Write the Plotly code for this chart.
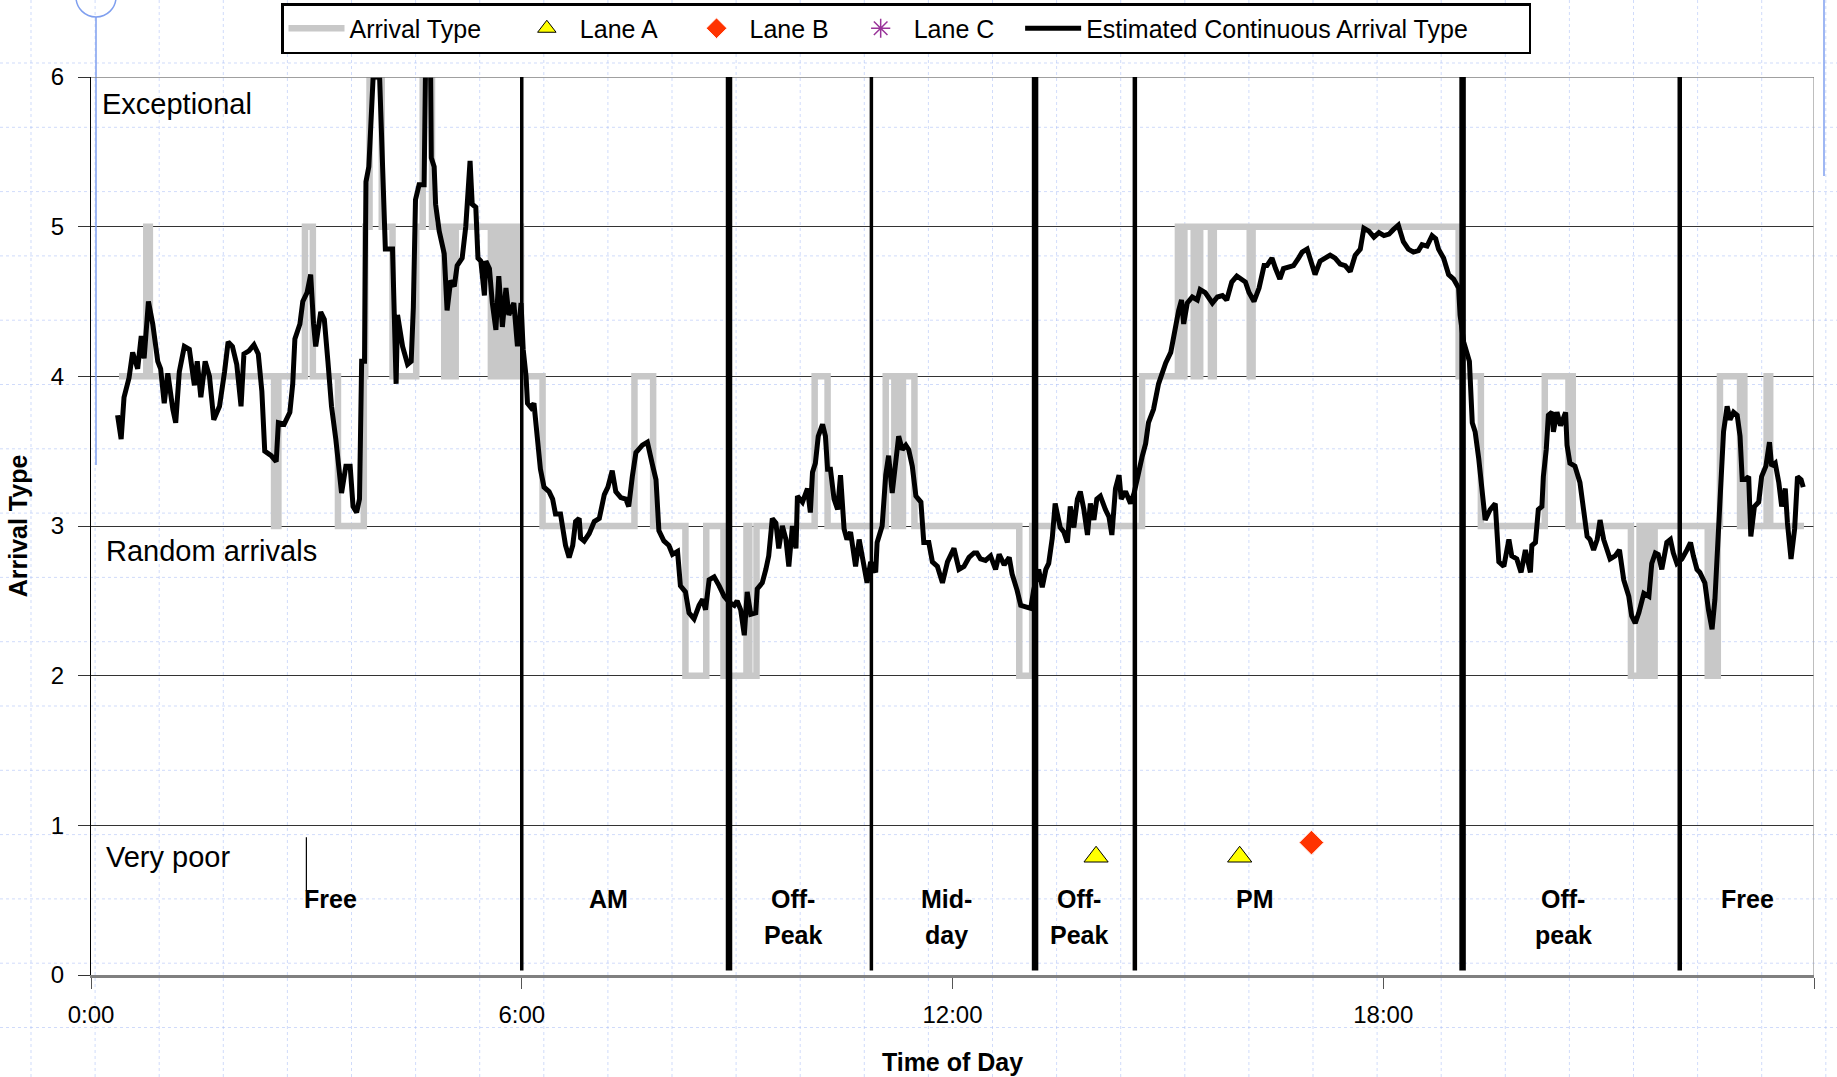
import plotly.graph_objects as go

# ---------------- data ----------------
# Estimated continuous arrival type (time in hours of day)
est_time = [
    0.37, 0.42, 0.46, 0.53, 0.58, 0.65, 0.70, 0.74, 0.80, 0.86, 0.93, 0.97, 1.02, 1.07, 1.14, 1.18, 1.23, 1.30,
    1.37, 1.44, 1.48, 1.53, 1.59, 1.65, 1.71, 1.79, 1.86, 1.91, 1.97, 2.03, 2.09, 2.13, 2.20, 2.27, 2.33, 2.38,
    2.42, 2.51, 2.58, 2.61, 2.69, 2.77, 2.81, 2.84, 2.91, 2.95, 3.01, 3.06, 3.10, 3.13, 3.20, 3.25, 3.30, 3.35,
    3.41, 3.46, 3.49, 3.55, 3.61, 3.65, 3.70, 3.74, 3.77, 3.81, 3.83, 3.87, 3.93, 4.02, 4.08, 4.10,
    4.20, 4.25, 4.27, 4.34, 4.41, 4.46, 4.49, 4.52, 4.57, 4.64, 4.66, 4.73, 4.74, 4.78, 4.80, 4.85, 4.92, 4.96,
    5.01, 5.06, 5.10, 5.17, 5.22, 5.25, 5.28, 5.31, 5.36, 5.39, 5.43, 5.48, 5.50, 5.55, 5.59, 5.64, 5.68, 5.73,
    5.78, 5.82, 5.89, 5.94, 5.99, 6.02, 6.06, 6.08, 6.13, 6.17, 6.22, 6.26, 6.31, 6.38, 6.43, 6.47, 6.54, 6.61,
    6.66, 6.71, 6.75, 6.80, 6.82, 6.87, 6.94, 7.01, 7.08, 7.15, 7.20, 7.26, 7.31, 7.38, 7.45, 7.49, 7.54, 7.59,
    7.68, 7.75, 7.82, 7.87, 7.91, 7.98, 8.05,
    8.10, 8.17, 8.21, 8.28, 8.33, 8.40, 8.47, 8.52, 8.56, 8.61, 8.68, 8.75, 8.82, 8.89, 8.96, 9.00, 9.05, 9.10,
    9.14, 9.19, 9.26, 9.28, 9.35, 9.40, 9.44, 9.49, 9.54, 9.58, 9.63, 9.68, 9.72, 9.77, 9.82, 9.84, 9.91, 9.98,
    10.02, 10.05, 10.09, 10.13, 10.19, 10.23, 10.26, 10.30, 10.35, 10.40, 10.44, 10.49, 10.53, 10.58, 10.65,
    10.70, 10.77, 10.81, 10.86, 10.93, 10.95, 11.02, 11.07, 11.11, 11.16, 11.21, 11.25, 11.30, 11.35, 11.39,
    11.44, 11.49, 11.56, 11.60, 11.67, 11.72, 11.79, 11.86, 11.93, 12.02,
    12.09, 12.16, 12.23, 12.30, 12.34, 12.39, 12.46, 12.53, 12.60, 12.65, 12.72, 12.79, 12.83, 12.90, 12.95,
    13.02, 13.09, 13.13, 13.20, 13.25, 13.30, 13.34, 13.39, 13.43, 13.50, 13.55, 13.60, 13.64, 13.69, 13.74,
    13.78, 13.83, 13.88, 13.92, 13.97, 14.01, 14.06, 14.13, 14.18, 14.22, 14.27, 14.32, 14.35, 14.41, 14.48,
    14.53, 14.57, 14.64, 14.69, 14.73, 14.80, 14.87, 14.92, 14.97, 15.04, 15.11, 15.15, 15.19, 15.22, 15.27,
    15.34, 15.41, 15.45, 15.52, 15.57, 15.62, 15.69, 15.76, 15.82, 15.89, 15.96,
    16.03, 16.08, 16.13, 16.20, 16.27, 16.34, 16.38, 16.45, 16.50, 16.56, 16.61, 16.68, 16.75, 16.82, 16.87,
    16.94, 17.01, 17.05, 17.12, 17.19, 17.26, 17.33, 17.40, 17.47, 17.54, 17.61, 17.68, 17.73, 17.80, 17.87,
    17.94, 18.01, 18.08, 18.14, 18.21, 18.28, 18.35, 18.42, 18.49, 18.54, 18.61, 18.68, 18.73, 18.77, 18.84,
    18.91, 18.98, 19.05, 19.07, 19.12, 19.17, 19.20, 19.24, 19.28, 19.33, 19.37, 19.42, 19.49, 19.56, 19.61,
    19.68, 19.75, 19.79,
    19.86, 19.92, 19.98, 20.05, 20.07, 20.12, 20.16, 20.21, 20.23, 20.27, 20.30, 20.35, 20.37, 20.42, 20.47,
    20.54, 20.56, 20.60, 20.67, 20.74, 20.79, 20.84, 20.88, 20.93, 20.98, 21.02, 21.07, 21.12, 21.16, 21.23,
    21.29, 21.35, 21.42, 21.46, 21.51, 21.56, 21.63, 21.70, 21.74, 21.79, 21.83, 21.88, 21.95, 22.00, 22.04,
    22.09, 22.16, 22.23, 22.28, 22.32, 22.37, 22.41, 22.48, 22.53, 22.58, 22.62, 22.67, 22.72, 22.74, 22.79,
    22.83, 22.88, 22.93, 22.97, 23.00, 23.04, 23.09, 23.12, 23.17, 23.23, 23.27, 23.33, 23.38, 23.41, 23.46,
    23.51, 23.55, 23.60, 23.63, 23.68, 23.73, 23.77, 23.82, 23.85,
]
est_value = [
    3.74, 3.58, 3.86, 3.99, 4.16, 4.05, 4.27, 4.12, 4.50, 4.35, 4.10, 4.05, 3.82, 4.02, 3.78, 3.69, 4.03, 4.20,
    4.18, 3.94, 4.10, 3.86, 4.10, 4.00, 3.71, 3.80, 4.03, 4.23, 4.20, 4.08, 3.80, 4.15, 4.17, 4.21, 4.15, 3.90,
    3.50, 3.47, 3.43, 3.69, 3.68, 3.76, 3.95, 4.25, 4.35, 4.50, 4.56, 4.68, 4.35, 4.20, 4.43, 4.38, 4.10, 3.80,
    3.58, 3.36, 3.22, 3.40, 3.40, 3.13, 3.09, 3.18, 4.10, 4.10, 5.30, 5.40, 6.00, 6.00, 5.10, 4.85,
    4.85, 3.95, 4.41, 4.20, 4.08, 4.10, 4.46, 5.18, 5.28, 5.28, 6.07, 6.07, 5.46, 5.40, 5.15, 4.97, 4.82, 4.44,
    4.64, 4.60, 4.74, 4.79, 5.00, 5.18, 5.44, 5.15, 5.13, 4.79, 4.77, 4.54, 4.77, 4.72, 4.49, 4.31, 4.67, 4.33,
    4.59, 4.41, 4.49, 4.20, 4.49, 4.18, 4.00, 3.82, 3.79, 3.82, 3.54, 3.38, 3.26, 3.23, 3.18, 3.08, 3.08, 2.87,
    2.79, 2.87, 3.03, 3.05, 2.92, 2.90, 2.95, 3.03, 3.05, 3.21, 3.26, 3.37, 3.23, 3.19, 3.18, 3.13, 3.33, 3.49,
    3.54, 3.56, 3.41, 3.31, 2.97, 2.90, 2.87,
    2.81, 2.83, 2.60, 2.56, 2.42, 2.38, 2.47, 2.51, 2.44, 2.64, 2.66, 2.60, 2.53, 2.49, 2.47, 2.50, 2.44, 2.27,
    2.56, 2.41, 2.42, 2.58, 2.62, 2.71, 2.80, 3.05, 3.02, 2.85, 3.00, 2.91, 2.73, 3.00, 2.85, 3.20, 3.16, 3.25,
    3.09, 3.36, 3.42, 3.60, 3.68, 3.60, 3.38, 3.38, 3.18, 3.11, 3.34, 2.98, 2.91, 2.96, 2.73,
    2.91, 2.71, 2.62, 2.76, 2.69, 2.89, 3.00, 3.34, 3.47, 3.22, 3.42, 3.60, 3.51, 3.54, 3.51,
    3.40, 3.20, 3.16, 2.89, 2.89, 2.76, 2.73, 2.62, 2.76, 2.85,
    2.71, 2.73, 2.79, 2.82, 2.82, 2.78, 2.77, 2.80, 2.71, 2.81, 2.74, 2.79, 2.68, 2.57, 2.47,
    2.46, 2.45, 2.57, 2.71, 2.59, 2.71, 2.75, 2.92, 3.15, 2.99, 2.96, 2.89, 3.13, 2.99, 3.18,
    3.23, 3.11, 2.94, 3.15, 3.04, 3.18, 3.20, 3.11, 3.06, 2.94, 3.25, 3.34, 3.18, 3.23, 3.15,
    3.22, 3.32, 3.46, 3.55, 3.69, 3.78, 3.95, 4.02, 4.09, 4.16, 4.35, 4.44, 4.51, 4.35, 4.49,
    4.53, 4.51, 4.58, 4.56, 4.53, 4.49, 4.53, 4.54, 4.51, 4.63, 4.67,
    4.65, 4.63, 4.56, 4.50, 4.59, 4.74, 4.74, 4.79, 4.72, 4.65, 4.72, 4.73, 4.74, 4.79, 4.83,
    4.85, 4.74, 4.68, 4.77, 4.79, 4.81, 4.79, 4.75, 4.74, 4.70, 4.81, 4.85, 4.99, 4.97, 4.93,
    4.96, 4.94, 4.95, 4.98, 5.01, 4.90, 4.85, 4.83, 4.84, 4.88, 4.87, 4.94, 4.92, 4.85, 4.79,
    4.68, 4.65, 4.59, 4.41, 4.23, 4.14, 4.10, 3.69, 3.63, 3.45, 3.29, 3.04, 3.11, 3.15, 2.76,
    2.73, 2.91, 2.80,
    2.78, 2.69, 2.84, 2.69, 2.87, 2.89, 3.11, 3.13, 3.33, 3.51, 3.74, 3.76, 3.63, 3.76, 3.67,
    3.76, 3.54, 3.42, 3.40, 3.29, 3.11, 2.93, 2.91, 2.84, 2.91, 3.04, 2.91, 2.82, 2.78, 2.80,
    2.84, 2.64, 2.53, 2.40, 2.35, 2.42, 2.55, 2.53, 2.75, 2.82, 2.81, 2.71, 2.89, 2.91, 2.82,
    2.75, 2.78, 2.84, 2.89, 2.80, 2.71, 2.69, 2.62, 2.44, 2.31, 2.51, 2.93, 3.33, 3.63, 3.80,
    3.71, 3.76, 3.74, 3.60, 3.31, 3.31, 3.33, 2.93, 3.13, 3.16, 3.33, 3.40, 3.56, 3.40, 3.42,
    3.29, 3.13, 3.25, 3.02, 2.78, 2.98, 3.33, 3.31, 3.26,
]

# Arrival type (categorical, step series: value holds from each time to the next)
type_time = [
    0.39, 0.77, 0.82, 2.55, 2.61, 2.98, 3.09, 3.44, 3.80, 3.82, 3.88, 4.05, 4.20, 4.53, 4.62, 4.75,
    4.92, 4.95, 4.98, 5.01, 5.04, 5.08, 5.57, 5.60, 5.63, 5.67, 5.70, 5.74, 5.77, 5.81, 5.84, 5.88,
    5.91, 5.95, 5.99, 6.29, 7.57, 7.83, 8.28, 8.57, 8.81, 9.13, 9.17, 9.27, 10.08, 10.26, 11.07, 11.19,
    11.21, 11.29, 11.31, 11.47, 12.93, 13.11, 14.64, 15.14, 15.21, 15.23, 15.36, 15.40, 15.43, 15.45,
    15.60, 15.64, 16.14, 16.18, 19.05, 19.36, 20.25, 20.58, 20.61, 20.64, 21.45, 21.57, 21.60, 21.64,
    21.67, 21.71, 21.74, 21.78, 22.52, 22.55, 22.58, 22.66, 22.69, 22.97, 23.00, 23.03, 23.34, 23.39,
    23.86,
]
type_value = [
    4, 5, 4, 3, 4, 5, 4, 3, 4, 5, 6, 5, 4, 5, 6, 5,
    4, 5, 4, 5, 4, 5, 4, 5, 4, 5, 4, 5, 4, 5, 4, 5,
    4, 5, 4, 3, 4, 3, 2, 3, 2, 3, 2, 3, 4, 3, 4, 3,
    4, 3, 4, 3, 2, 3, 4, 5, 4, 5, 4, 5, 4, 5,
    4, 5, 4, 5, 4, 3, 4, 3, 4, 3, 2, 3, 2, 3,
    2, 3, 2, 3, 2, 3, 2, 3, 4, 3, 4, 3, 4, 3,
    3,
]

laneA_time = [14.0, 16.0]
laneA_value = [0.79, 0.79]
laneB_time = [17.0]
laneB_value = [0.885]
laneC_time = [None]
laneC_value = [None]

series_names = ["Arrival Type", "Lane A", "Lane B", "Lane C", "Estimated Continuous Arrival Type"]

# Time-of-day period boundaries (hours) and period names
period_bounds = [6.0, 8.887, 10.87, 13.15, 14.54, 19.105, 22.13]
period_names = ["Free", "AM", "Off-\nPeak", "Mid-\nday", "Off-\nPeak", "PM", "Off-\npeak", "Free"]

level_names = ["Exceptional", "Random arrivals", "Very poor"]

x_tickvals = [0, 6, 12, 18, 24]
x_ticktext = ["0:00", "6:00", "12:00", "18:00", "0:00"]

# ---------------- styling / layout ----------------
W, H = 1837, 1077                    # figure = browser viewport (body margin removed below)
VL, VR, VT, VB = 91, 1814, 77, 975   # plot area in pixels
FONT = "Liberation Sans, Arial, sans-serif"
NB = "\u00a0"
legend_pad = [4, 3, 2, 3, 8]   # trailing spacing per legend entry


def pxx(px):
    return (px - VL) / (VR - VL)


def pxy(py):
    return (VB - py) / (VB - VT)


def lname(i):
    return series_names[i] + NB * legend_pad[i]


fig = go.Figure()

fig.add_trace(go.Scatter(
    x=type_time, y=type_value, mode="lines", name=lname(0),
    line=dict(color="#C8C8C8", width=6.5, shape="hv"), legendrank=1,
))
fig.add_trace(go.Scatter(
    x=est_time, y=est_value, mode="lines", name=lname(4),
    line=dict(color="black", width=5), legendrank=5,
))
fig.add_trace(go.Scatter(
    x=laneA_time, y=laneA_value, mode="markers", name=lname(1),
    marker=dict(symbol="triangle-up", size=21, color="#FFFF00", line=dict(color="black", width=1)),
    legendrank=2,
))
fig.add_trace(go.Scatter(
    x=laneB_time, y=laneB_value, mode="markers", name=lname(2),
    marker=dict(symbol="diamond", size=19, color="#FF3300", line=dict(color="#FFFFFF", width=1)),
    legendrank=3,
))
fig.add_trace(go.Scatter(
    x=laneC_time, y=laneC_value, mode="markers", name=lname(3),
    marker=dict(symbol="asterisk-open", size=16, color="#993399", line=dict(color="#993399", width=1.5)),
    legendrank=4,
))

shapes = []
# faint slide grid (background)
grid_col = "rgba(170,190,245,0.55)"
for k in range(29):
    x = 31 + 64.1 * k
    shapes.append(dict(type="line", xref="paper", yref="paper", x0=pxx(x), x1=pxx(x),
                       y0=pxy(0), y1=pxy(H), line=dict(color=grid_col, width=1, dash="3px,3px"),
                       layer="below"))
for k in range(16):
    y = 63 + 64.3 * k
    shapes.append(dict(type="line", xref="paper", yref="paper", x0=pxx(0), x1=pxx(W),
                       y0=pxy(y), y1=pxy(y), line=dict(color=grid_col, width=1, dash="3px,3px"),
                       layer="below"))
# blue selection artefacts
blue = "#7F9FEF"
shapes.append(dict(type="circle", xref="paper", yref="paper", x0=pxx(76), x1=pxx(116),
                   y0=pxy(-23), y1=pxy(17), line=dict(color=blue, width=1.5)))
shapes.append(dict(type="line", xref="paper", yref="paper", x0=pxx(96), x1=pxx(96),
                   y0=pxy(17), y1=pxy(465), line=dict(color=blue, width=1.5)))
shapes.append(dict(type="line", xref="paper", yref="paper", x0=pxx(1824), x1=pxx(1824),
                   y0=pxy(0), y1=pxy(176), line=dict(color=blue, width=1.5)))
# plot border right/top
shapes.append(dict(type="line", xref="x", yref="y", x0=24, x1=24, y0=0, y1=6,
                   line=dict(color="#A8A8A8", width=1.5)))
shapes.append(dict(type="line", xref="x", yref="y", x0=0, x1=24, y0=6, y1=6,
                   line=dict(color="#808080", width=1.5)))
# period boundaries
bound_w = [3.5, 6.5, 3.5, 6.5, 4.5, 6.5, 4.5]
for t, w in zip(period_bounds, bound_w):
    shapes.append(dict(type="line", xref="x", yref="y", x0=t, x1=t, y0=0.03, y1=6,
                       line=dict(color="black", width=w)))
# small marker line near first label
shapes.append(dict(type="line", xref="x", yref="y", x0=3.0, x1=3.0, y0=0.56, y1=0.92,
                   line=dict(color="black", width=1.2)))

annotations = []
label_x = [3.34, 7.21, 9.78, 11.92, 13.76, 16.22, 20.51, 23.07]
for xc, name in zip(label_x, period_names):
    for i, line in enumerate(name.split("\n")):
        annotations.append(dict(x=xc, y=[0.51, 0.265][i], xref="x", yref="y", text="<b>%s</b>" % line,
                                showarrow=False, xanchor="center", yanchor="middle",
                                font=dict(family=FONT, size=25, color="black")))
level_pos = [(0.13, 5.82), (0.18, 2.83), (0.18, 0.79)]
for (xl, yl), name in zip(level_pos, level_names):
    annotations.append(dict(x=xl, y=yl, xref="x", yref="y", text=name, showarrow=False,
                            xanchor="left", yanchor="middle",
                            font=dict(family=FONT, size=29, color="black")))

fig.update_layout(
    width=W, height=H,
    margin=dict(l=VL, r=W - VR, t=VT, b=H - VB, pad=0, autoexpand=False),
    paper_bgcolor="white", plot_bgcolor="rgba(0,0,0,0)",
    font=dict(family=FONT, color="black", size=24),
    shapes=shapes, annotations=annotations,
    showlegend=True,
    legend=dict(orientation="h", x=pxx(281), y=pxy(3), xanchor="left", yanchor="top",
                bgcolor="white", bordercolor="black", borderwidth=2.5,
                font=dict(family=FONT, size=25, color="black"), itemwidth=56,
                traceorder="normal"),
    xaxis=dict(range=[0, 24], tickvals=x_tickvals, ticktext=x_ticktext, ticks="outside",
               ticklen=11, tickcolor="#555555", tickwidth=1.2, showline=True, linecolor="#808080",
               linewidth=2.5, showgrid=False, zeroline=False, ticklabelstandoff=5, automargin=False,
               tickfont=dict(family=FONT, size=24),
               title=dict(text="<b>Time of Day</b>", font=dict(family=FONT, size=25), standoff=27)),
    yaxis=dict(range=[0, 6], dtick=1, tick0=0, ticks="outside", ticklen=12, tickcolor="#333333",
               showline=True, linecolor="black", linewidth=1, showgrid=True, gridcolor="#333333",
               gridwidth=1, zeroline=False, ticklabelstandoff=9, automargin=False,
               tickfont=dict(family=FONT, size=24),
               title=dict(text="<b>Arrival Type</b>", font=dict(family=FONT, size=25), standoff=16)),
)

fig.write_html("out.html", config={"displayModeBar": False},
               post_script="document.body.style.margin='0px';")
